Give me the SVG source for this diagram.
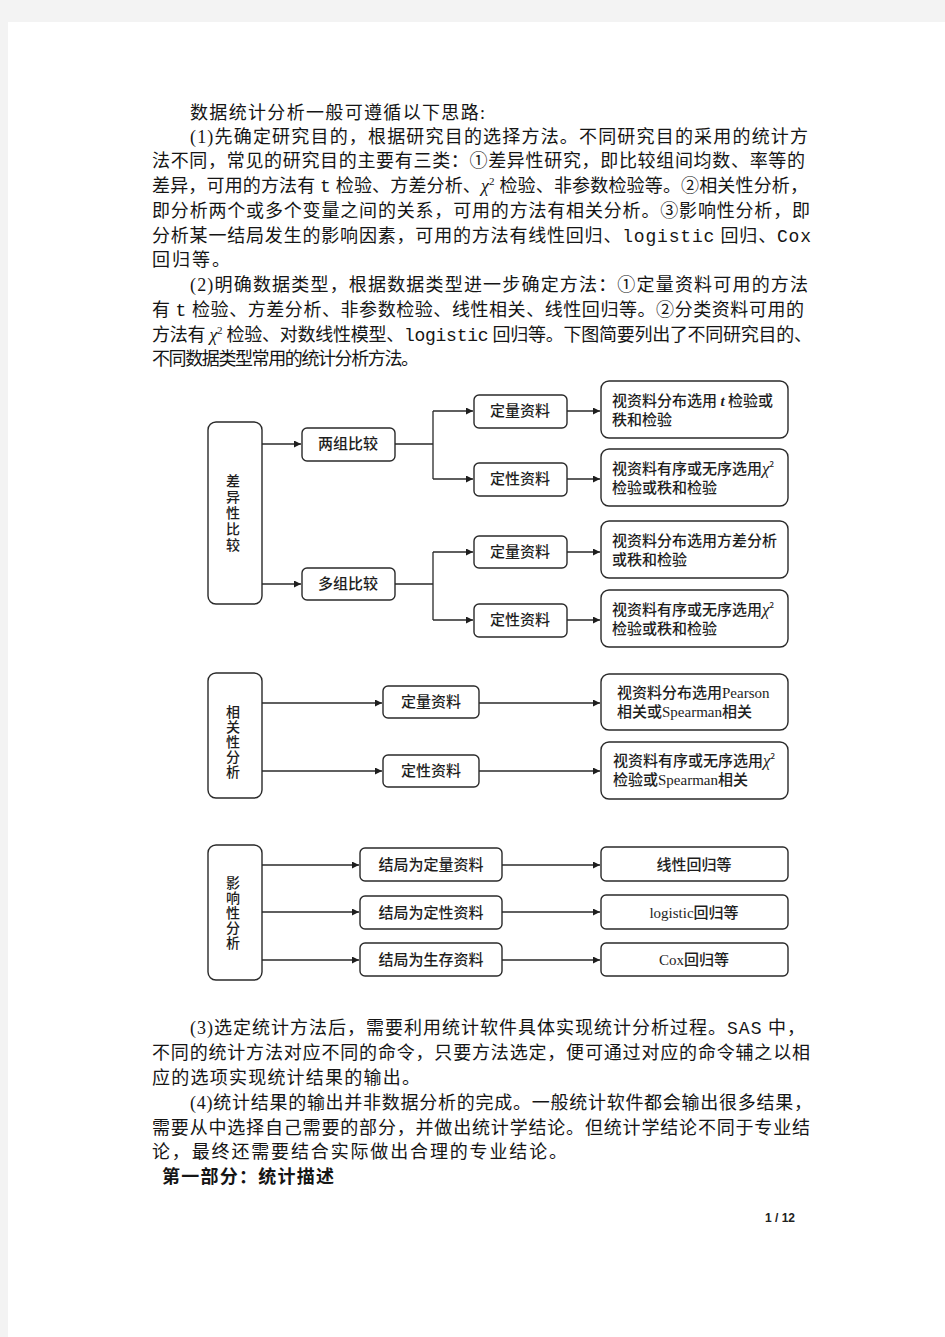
<svg xmlns="http://www.w3.org/2000/svg" width="945" height="1337" viewBox="0 0 945 1337">
<defs>
<style>
.body{font-family:"Liberation Serif","Noto Sans CJK SC",serif;font-size:18px;fill:#151515;}
.mono{font-family:"Liberation Mono","Noto Sans CJK SC",monospace;}
.chi{font-family:"Liberation Serif",serif;font-style:italic;}
.sup{font-size:11px;}
.box{fill:#fff;stroke:#2a2a2a;stroke-width:1.4;}
.lbl{font-family:"Noto Sans CJK SC",sans-serif;font-size:15px;fill:#1e1e1e;font-weight:500;}
.vl{font-family:"Noto Sans CJK SC",sans-serif;font-size:14px;fill:#1e1e1e;font-weight:500;writing-mode:vertical-rl;letter-spacing:1px;}
.c{text-anchor:middle;}
.ln{fill:none;stroke:#2a2a2a;stroke-width:1.3;}
.lat{font-family:"Liberation Serif",serif;}
</style>
<marker id="ah" viewBox="0 0 10 10" refX="10" refY="5" markerWidth="8" markerHeight="7" markerUnits="userSpaceOnUse" orient="auto">
<path d="M0,0 L10,5 L0,10 z" fill="#1e1e1e"/>
</marker>
</defs>
<rect x="0" y="0" width="945" height="1337" fill="#f3f3f3"/>
<rect x="8" y="22" width="937" height="1315" fill="#ffffff"/>

<g id="text-top" class="body">
<text x="190" y="119" textLength="295" lengthAdjust="spacing">数据统计分析一般可遵循以下思路:</text>
<text x="190" y="143" textLength="618" lengthAdjust="spacing">(1)先确定研究目的，根据研究目的选择方法。不同研究目的采用的统计方</text>
<text x="152" y="167" textLength="653" lengthAdjust="spacing">法不同，常见的研究目的主要有三类：①差异性研究，即比较组间均数、率等的</text>
<text x="152" y="192" textLength="656" lengthAdjust="spacing">差异，可用的方法有 <tspan class="mono">t</tspan> 检验、方差分析、<tspan class="chi">χ</tspan><tspan class="sup" dy="-7">2</tspan><tspan dy="7"> 检验、非参数检验等。②相关性分析，</tspan></text>
<text x="152" y="217" textLength="658" lengthAdjust="spacing">即分析两个或多个变量之间的关系，可用的方法有相关分析。③影响性分析，即</text>
<text x="152" y="242" textLength="659" lengthAdjust="spacing">分析某一结局发生的影响因素，可用的方法有线性回归、<tspan class="mono">logistic</tspan> 回归、<tspan class="mono">Cox</tspan></text>
<text x="152" y="266" textLength="78" lengthAdjust="spacing">回归等。</text>
<text x="190" y="291" textLength="618" lengthAdjust="spacing">(2)明确数据类型，根据数据类型进一步确定方法：①定量资料可用的方法</text>
<text x="152" y="316" textLength="652" lengthAdjust="spacing">有 <tspan class="mono">t</tspan> 检验、方差分析、非参数检验、线性相关、线性回归等。②分类资料可用的</text>
<text x="152" y="341" textLength="660" lengthAdjust="spacing">方法有 <tspan class="chi">χ</tspan><tspan class="sup" dy="-7">2</tspan><tspan dy="7"> 检验、对数线性模型、</tspan><tspan class="mono">logistic</tspan> 回归等。下图简要列出了不同研究目的、</text>
<text x="152" y="365" textLength="267" lengthAdjust="spacing">不同数据类型常用的统计分析方法。</text>
</g>

<g id="connectors">
<path class="ln" d="M262,444 H301" marker-end="url(#ah)"/>
<path class="ln" d="M395,444 H433 M433,411 V479"/>
<path class="ln" d="M433,411 H473" marker-end="url(#ah)"/>
<path class="ln" d="M433,479 H473" marker-end="url(#ah)"/>
<path class="ln" d="M567,411 H600" marker-end="url(#ah)"/>
<path class="ln" d="M567,479 H600" marker-end="url(#ah)"/>
<path class="ln" d="M262,584 H301" marker-end="url(#ah)"/>
<path class="ln" d="M395,584 H433 M433,552 V620"/>
<path class="ln" d="M433,552 H473" marker-end="url(#ah)"/>
<path class="ln" d="M433,620 H473" marker-end="url(#ah)"/>
<path class="ln" d="M567,552 H600" marker-end="url(#ah)"/>
<path class="ln" d="M567,620 H600" marker-end="url(#ah)"/>
<path class="ln" d="M262,703 H382" marker-end="url(#ah)"/>
<path class="ln" d="M479,703 H600" marker-end="url(#ah)"/>
<path class="ln" d="M262,771 H382" marker-end="url(#ah)"/>
<path class="ln" d="M479,771 H600" marker-end="url(#ah)"/>
<path class="ln" d="M262,865 H359" marker-end="url(#ah)"/>
<path class="ln" d="M502,865 H600" marker-end="url(#ah)"/>
<path class="ln" d="M262,912 H359" marker-end="url(#ah)"/>
<path class="ln" d="M502,912 H600" marker-end="url(#ah)"/>
<path class="ln" d="M262,960 H359" marker-end="url(#ah)"/>
<path class="ln" d="M502,960 H600" marker-end="url(#ah)"/>
</g>

<g id="n-diff">
<rect class="box" x="208" y="422" width="54" height="182" rx="8"/>
<text class="vl" x="233" y="474" style="letter-spacing:2px">差异性比较</text>
</g>
<g id="n-two">
<rect class="box" x="302" y="428" width="93" height="33" rx="5"/>
<text class="lbl c" x="348" y="449">两组比较</text>
</g>
<g id="n-two-quant">
<rect class="box" x="474" y="395" width="93" height="33" rx="5"/>
<text class="lbl c" x="520" y="416">定量资料</text>
</g>
<g id="n-two-qual">
<rect class="box" x="474" y="463" width="93" height="33" rx="5"/>
<text class="lbl c" x="520" y="484">定性资料</text>
</g>
<g id="n-r1">
<rect class="box" x="601" y="381" width="187" height="57" rx="8"/>
<text class="lbl" x="612" y="406">视资料分布选用 <tspan class="lat" font-style="italic" font-weight="bold">t</tspan> 检验或</text>
<text class="lbl" x="612" y="425">秩和检验</text>
</g>
<g id="n-r2">
<rect class="box" x="601" y="449" width="187" height="57" rx="8"/>
<text class="lbl" x="612" y="474">视资料有序或无序选用<tspan class="lat" font-style="italic" font-size="17">χ</tspan><tspan font-size="8" dy="-7">2</tspan></text>
<text class="lbl" x="612" y="493">检验或秩和检验</text>
</g>
<g id="n-multi">
<rect class="box" x="302" y="568" width="93" height="32" rx="5"/>
<text class="lbl c" x="348" y="589">多组比较</text>
</g>
<g id="n-multi-quant">
<rect class="box" x="474" y="536" width="93" height="32" rx="5"/>
<text class="lbl c" x="520" y="557">定量资料</text>
</g>
<g id="n-multi-qual">
<rect class="box" x="474" y="604" width="93" height="33" rx="5"/>
<text class="lbl c" x="520" y="625">定性资料</text>
</g>
<g id="n-r3">
<rect class="box" x="601" y="521" width="187" height="57" rx="8"/>
<text class="lbl" x="612" y="546">视资料分布选用方差分析</text>
<text class="lbl" x="612" y="565">或秩和检验</text>
</g>
<g id="n-r4">
<rect class="box" x="601" y="590" width="187" height="57" rx="8"/>
<text class="lbl" x="612" y="615">视资料有序或无序选用<tspan class="lat" font-style="italic" font-size="17">χ</tspan><tspan font-size="8" dy="-7">2</tspan></text>
<text class="lbl" x="612" y="634">检验或秩和检验</text>
</g>

<g id="n-corr">
<rect class="box" x="208" y="673" width="54" height="125" rx="8"/>
<text class="vl" x="233" y="705">相关性分析</text>
</g>
<g id="n-corr-quant">
<rect class="box" x="383" y="686" width="96" height="32" rx="5"/>
<text class="lbl c" x="431" y="707">定量资料</text>
</g>
<g id="n-corr-qual">
<rect class="box" x="383" y="755" width="96" height="32" rx="5"/>
<text class="lbl c" x="431" y="776">定性资料</text>
</g>
<g id="n-r5">
<rect class="box" x="601" y="674" width="187" height="56" rx="8"/>
<text class="lbl" x="617" y="698">视资料分布选用<tspan class="lat">Pearson</tspan></text>
<text class="lbl" x="617" y="717">相关或<tspan class="lat">Spearman</tspan>相关</text>
</g>
<g id="n-r6">
<rect class="box" x="601" y="742" width="187" height="57" rx="8"/>
<text class="lbl" x="613" y="766">视资料有序或无序选用<tspan class="lat" font-style="italic" font-size="17">χ</tspan><tspan font-size="8" dy="-7">2</tspan></text>
<text class="lbl" x="613" y="785">检验或<tspan class="lat">Spearman</tspan>相关</text>
</g>

<g id="n-infl">
<rect class="box" x="208" y="845" width="54" height="135" rx="8"/>
<text class="vl" x="233" y="876">影响性分析</text>
</g>
<g id="n-o1">
<rect class="box" x="360" y="848" width="142" height="33" rx="5"/>
<text class="lbl c" x="431" y="870">结局为定量资料</text>
</g>
<g id="n-o2">
<rect class="box" x="360" y="896" width="142" height="33" rx="5"/>
<text class="lbl c" x="431" y="918">结局为定性资料</text>
</g>
<g id="n-o3">
<rect class="box" x="360" y="943" width="142" height="33" rx="5"/>
<text class="lbl c" x="431" y="965">结局为生存资料</text>
</g>
<g id="n-m1">
<rect class="box" x="601" y="847" width="187" height="34" rx="5"/>
<text class="lbl c" x="694" y="870">线性回归等</text>
</g>
<g id="n-m2">
<rect class="box" x="601" y="895" width="187" height="34" rx="5"/>
<text class="lbl c" x="694" y="918"><tspan class="lat">logistic</tspan>回归等</text>
</g>
<g id="n-m3">
<rect class="box" x="601" y="943" width="187" height="33" rx="5"/>
<text class="lbl c" x="694" y="965"><tspan class="lat">Cox</tspan>回归等</text>
</g>

<g id="text-bottom" class="body">
<text x="190" y="1034" textLength="615" lengthAdjust="spacing">(3)选定统计方法后，需要利用统计软件具体实现统计分析过程。<tspan class="mono">SAS</tspan> 中，</text>
<text x="152" y="1059" textLength="658" lengthAdjust="spacing">不同的统计方法对应不同的命令，只要方法选定，便可通过对应的命令辅之以相</text>
<text x="152" y="1084" textLength="268" lengthAdjust="spacing">应的选项实现统计结果的输出。</text>
<text x="190" y="1109" textLength="622" lengthAdjust="spacing">(4)统计结果的输出并非数据分析的完成。一般统计软件都会输出很多结果，</text>
<text x="152" y="1134" textLength="658" lengthAdjust="spacing">需要从中选择自己需要的部分，并做出统计学结论。但统计学结论不同于专业结</text>
<text x="152" y="1158" textLength="415" lengthAdjust="spacing">论，最终还需要结合实际做出合理的专业结论。</text>
<text x="162" y="1183" textLength="172" lengthAdjust="spacing" font-weight="bold">第一部分：统计描述</text>
<text x="765" y="1222" font-family="Liberation Sans, sans-serif" font-size="12" font-weight="bold" fill="#222">1 / 12</text>
</g>
</svg>
